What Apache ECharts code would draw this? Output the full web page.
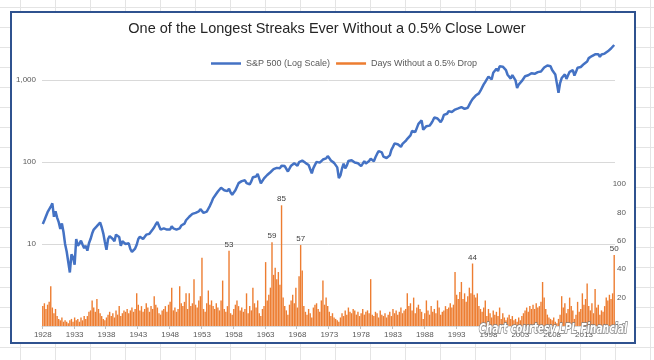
<!DOCTYPE html>
<html>
<head>
<meta charset="utf-8">
<script src="https://cdn.jsdelivr.net/npm/echarts@6/dist/echarts.min.js"></script>
<style>
  html, body { margin: 0; padding: 0; }
  body {
    width: 654px; height: 360px; position: relative; overflow: hidden;
    background-color: #fff;
    background-image:
      linear-gradient(to right, #e4e4e4 1px, transparent 1px),
      linear-gradient(to bottom, #e4e4e4 1px, transparent 1px);
    background-size: 35px 100%, 100% 20px;
    background-position: 20px 0, 0 7px;
  }
  #frame {
    position: absolute; left: 10px; top: 11px; width: 622px; height: 329px;
    border: 2px solid #2F528F; background: #fff;
  }
  #chart { position: absolute; left: 0; top: 0; width: 654px; height: 360px; }
</style>
</head>
<body>
<div id="frame"></div>
<div id="chart"></div>
<script>
// ---- data (quarterly, 1928 Q1 .. 2017 Q4) ----
const startYear = 1928;
const endYear = 2017;

const spx = [
  17.5, 19.5, 20.5, 24.4,
  25.3, 28.5, 31.3, 21.5,
  25.0, 21.0, 18.5, 15.3,
  17.8, 14.0, 10.0, 8.1,
  8.0, 4.5, 7.5, 6.9,
  5.6, 11.5, 9.5, 10.1,
  11.0, 9.8, 8.9, 9.5,
  8.3, 10.2, 11.5, 13.4,
  15.0, 15.0, 16.5, 17.2,
  18.3, 16.0, 13.5, 10.6,
  8.5, 11.5, 12.5, 13.2,
  11.5, 10.8, 13.0, 12.5,
  12.2, 9.5, 10.8, 10.6,
  10.0, 9.8, 10.2, 8.7,
  8.0, 7.8, 8.8, 9.8,
  11.5, 12.3, 11.8, 11.5,
  12.0, 13.0, 12.8, 13.3,
  14.0, 15.0, 16.0, 17.4,
  18.5, 18.8, 15.0, 15.3,
  15.5, 15.2, 15.0, 15.3,
  15.0, 16.5, 15.5, 15.2,
  15.0, 14.2, 15.5, 16.8,
  17.3, 17.7, 19.5, 20.4,
  21.5, 21.0, 23.3, 23.8,
  24.0, 25.0, 25.0, 26.6,
  25.3, 24.0, 23.0, 24.8,
  26.9, 29.2, 32.3, 36.0,
  36.6, 41.0, 43.7, 45.5,
  48.5, 46.9, 45.3, 46.7,
  44.1, 47.4, 42.4, 40.0,
  42.1, 45.2, 50.0, 55.2,
  55.4, 58.5, 56.9, 59.9,
  55.3, 56.9, 53.5, 58.1,
  65.1, 64.6, 66.7, 71.6,
  69.6, 54.8, 56.3, 63.1,
  66.6, 69.4, 71.7, 75.0,
  79.0, 81.7, 84.2, 84.8,
  86.8, 84.1, 90.0, 92.4,
  89.2, 84.7, 76.6, 80.3,
  90.2, 90.6, 96.7, 96.5,
  90.2, 99.6, 102.7, 103.9,
  101.5, 97.7, 93.1, 92.1,
  89.6, 72.7, 84.2, 92.2,
  100.3, 99.0, 98.3, 102.1,
  107.2, 107.1, 110.6, 118.1,
  111.5, 104.3, 108.4, 97.6,
  94.0, 86.0, 63.5, 68.6,
  83.4, 95.2, 83.9, 90.2,
  102.8, 104.3, 105.2, 107.5,
  98.4, 100.5, 96.5, 95.1,
  89.2, 95.5, 102.5, 96.1,
  101.6, 102.9, 109.3, 107.9,
  102.1, 114.2, 125.5, 135.8,
  136.0, 131.2, 116.2, 122.6,
  112.0, 109.6, 120.4, 140.6,
  153.0, 168.1, 166.1, 164.9,
  159.2, 153.2, 166.1, 167.2,
  180.7, 191.9, 182.1, 211.3,
  238.9, 250.8, 231.3, 242.2,
  291.7, 304.0, 321.8, 247.1,
  258.9, 273.5, 271.9, 277.7,
  294.9, 318.0, 349.2, 353.4,
  339.9, 358.0, 306.1, 330.2,
  375.2, 371.2, 387.9, 417.1,
  403.7, 408.1, 417.8, 435.7,
  451.7, 450.5, 458.9, 466.5,
  445.8, 444.3, 462.7, 459.3,
  500.7, 544.8, 584.4, 615.9,
  645.5, 670.6, 687.3, 740.7,
  757.1, 885.1, 947.3, 970.4,
  1101.8, 1133.8, 1017.0, 1229.2,
  1286.4, 1372.7, 1282.7, 1469.3,
  1498.6, 1454.6, 1436.5, 1320.3,
  1160.3, 1224.4, 1040.9, 1148.1,
  1147.4, 989.8, 800.0, 879.8,
  848.2, 974.5, 996.0, 1111.9,
  1126.2, 1140.8, 1114.6, 1211.9,
  1180.6, 1191.3, 1228.8, 1248.3,
  1294.8, 1270.2, 1335.9, 1418.3,
  1420.9, 1503.4, 1526.8, 1468.4,
  1322.7, 1280.0, 1166.4, 903.3,
  700.0, 919.3, 1057.1, 1115.1,
  1169.4, 1030.7, 1141.2, 1257.6,
  1325.8, 1320.6, 1131.4, 1257.6,
  1408.5, 1362.2, 1440.7, 1426.2,
  1569.2, 1606.3, 1681.6, 1848.4,
  1872.3, 1960.2, 1972.3, 2058.9,
  2067.9, 2063.1, 1920.0, 2043.9,
  2059.7, 2098.9, 2168.3, 2238.8,
  2362.7, 2423.4, 2519.4, 2673.6
];

const daysWithoutDrop = [
  14, 16, 12, 15,
  17, 28, 13, 9,
  12, 7, 5, 4,
  6, 3, 4, 3,
  2, 4, 5, 3,
  6, 4, 5, 3,
  6, 4, 7, 5,
  7, 10, 11, 18,
  13, 10, 19, 12,
  9, 7, 5, 4,
  6, 8, 10, 7,
  9, 6, 11, 8,
  14, 7, 9, 11,
  10, 12, 9, 11,
  13, 10, 12, 23,
  15, 11, 14, 10,
  12, 16, 13, 10,
  14, 12, 21, 15,
  13, 9, 8, 11,
  12, 14, 10, 15,
  17, 27, 11, 13,
  10, 12, 28, 16,
  14, 17, 23, 12,
  23, 14, 16, 33,
  15, 13, 18, 21,
  48, 12, 10, 16,
  25, 15, 18, 14,
  12, 16, 13, 11,
  18, 32, 12, 10,
  14, 53, 9, 8,
  12, 15, 18, 14,
  11, 13, 10, 12,
  23, 9, 14, 11,
  27, 16, 13, 18,
  9, 7, 12, 14,
  45, 18, 22, 27,
  59, 36, 41, 33,
  38, 29, 85, 20,
  14, 11, 8, 15,
  18, 22, 16, 27,
  13, 35, 57, 39,
  14, 10, 8, 12,
  9, 6, 13, 15,
  16, 12, 10, 18,
  32, 15, 20, 14,
  10, 7, 9, 6,
  5, 4, 3, 6,
  9, 7, 11, 8,
  13, 10, 9, 12,
  11, 8, 10, 7,
  9, 12, 8, 10,
  11, 9, 33, 8,
  7, 10, 9, 6,
  11, 8, 7, 9,
  6, 8, 10, 7,
  12, 9, 11, 8,
  10, 13, 9, 11,
  12, 23, 14, 16,
  11, 20, 9, 13,
  15, 12, 10, 5,
  9, 18, 11, 8,
  14, 10, 12, 9,
  18, 13, 8, 10,
  11, 14, 12, 13,
  16, 13, 15, 38,
  22, 19, 24, 31,
  19, 23, 17, 21,
  27, 23, 44, 22,
  20, 23, 14, 12,
  10, 13, 18, 7,
  12, 9, 6, 11,
  8, 10, 7, 13,
  5, 9, 6, 4,
  6, 8, 5, 7,
  4, 5, 3, 6,
  4, 7, 9, 11,
  13, 10, 14, 12,
  15, 12, 16, 13,
  14, 17, 31, 20,
  12, 8, 6, 5,
  4, 6, 3, 2,
  5, 8, 21, 13,
  16, 9, 12, 20,
  14, 11, 5, 8,
  17, 10, 12, 23,
  15, 19, 30, 14,
  11, 16, 9, 26,
  13, 15, 8, 11,
  10, 14, 20, 18,
  22, 19, 23, 50
];

// bars that carry a value label
const labeledQuarters = ['1957 Q2', '1964 Q1', '1965 Q3', '1968 Q3', '1995 Q3', '2017 Q4'];

const leftTickLabels = [10, 100, 1000];
const rightTickLabels = [0, 20, 40, 60, 80, 100];

// ---- categories ----
const categories = [];
for (let y = startYear; y <= endYear; y++) {
  for (let q = 1; q <= 4; q++) categories.push(y + ' Q' + q);
}

const barData = daysWithoutDrop.map((v, i) => {
  if (labeledQuarters.indexOf(categories[i]) >= 0) {
    return { value: v, label: { show: true } };
  }
  return v;
});

const chart = echarts.init(document.getElementById('chart'), null, { renderer: 'canvas' });
const font = '"Liberation Sans", Arial, sans-serif';

chart.setOption({
  backgroundColor: 'transparent',
  animation: false,
  textStyle: { fontFamily: font },
  title: {
    text: 'One of the Longest Streaks Ever Without a 0.5% Close Lower',
    left: 'center',
    top: 16,
    textStyle: { fontSize: 14.5, fontWeight: 'normal', color: '#262626', fontFamily: font }
  },
  legend: {
    top: 54,
    left: 206,
    itemWidth: 30,
    itemHeight: 2.5,
    itemGap: 6,
    icon: 'rect',
    textStyle: { fontSize: 9, color: '#595959', fontFamily: font },
    data: ['S&P 500 (Log Scale)', 'Days Without a 0.5% Drop']
  },
  grid: { left: 42, right: 39, top: 40, bottom: 34, containLabel: false },
  xAxis: {
    type: 'category',
    data: categories,
    boundaryGap: true,
    axisLine: { show: true, lineStyle: { color: '#D9D9D9', width: 1 } },
    axisTick: { show: true, interval: 19, length: 3, lineStyle: { color: '#BFBFBF' } },
    axisLabel: {
      interval: 19,
      fontSize: 8,
      color: '#595959',
      margin: 5,
      formatter: (v) => v.split(' ')[0]
    },
    splitLine: { show: false }
  },
  yAxis: [
    {
      type: 'log',
      logBase: 10,
      min: 1,
      max: 3076,
      axisLine: { show: false },
      axisTick: { show: false },
      axisLabel: {
        fontSize: 8,
        color: '#595959',
        margin: 6,
        showMaxLabel: false,
        formatter: (v) => {
          const r = Math.round(v);
          return leftTickLabels.indexOf(r) >= 0 ? r.toLocaleString('en-US') : '';
        }
      },
      splitLine: { show: true, showMaxLine: false, showMinLine: false, lineStyle: { color: '#D9D9D9', width: 1 } }
    },
    {
      type: 'value',
      min: 0,
      max: 201.4,
      interval: 20,
      position: 'right',
      axisLine: { show: false },
      axisTick: { show: false },
      splitLine: { show: false },
      axisLabel: {
        fontSize: 8,
        color: '#595959',
        margin: 11,
        align: 'right',
        formatter: (v) => (rightTickLabels.indexOf(Math.round(v)) >= 0 ? String(Math.round(v)) : '')
      }
    }
  ],
  series: [
    {
      name: 'Days Without a 0.5% Drop',
      type: 'bar',
      yAxisIndex: 1,
      data: barData,
      barCategoryGap: '12%',
      itemStyle: { color: '#ED7D31' },
      label: {
        show: false,
        position: 'top',
        distance: 2,
        fontSize: 8,
        color: '#404040',
        fontFamily: font
      },
      z: 2
    },
    {
      name: 'S&P 500 (Log Scale)',
      type: 'line',
      yAxisIndex: 0,
      data: spx,
      symbol: 'none',
      lineStyle: { color: '#4472C4', width: 2.5 },
      itemStyle: { color: '#4472C4' },
      z: 3
    }
  ],
  graphic: [
    {
      type: 'text',
      x: 479,
      y: 322,
      scaleX: 0.73,
      z: 100,
      style: {
        text: 'Chart courtesy LPL Financial',
        fontSize: 14,
        fontStyle: 'italic',
        fontWeight: 'bold',
        fontFamily: '"DejaVu Sans Condensed", "Liberation Sans", sans-serif',
        fill: '#ffffff',
        stroke: '#7F7F7F',
        lineWidth: 1.5
      }
    }
  ]
});
</script>
</body>
</html>
